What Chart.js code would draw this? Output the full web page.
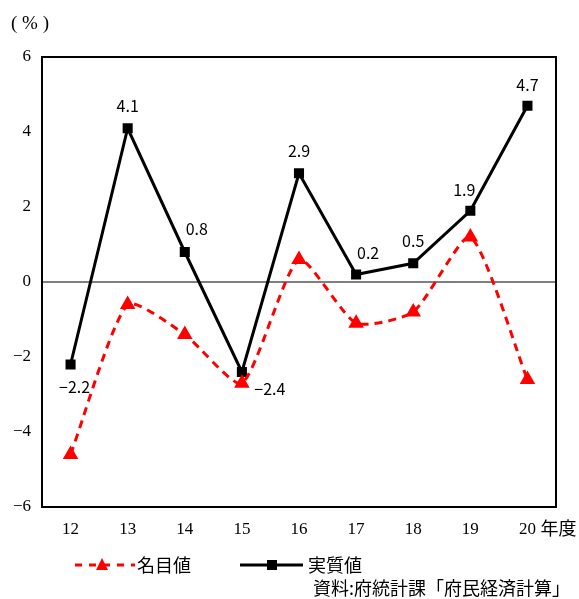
<!DOCTYPE html>
<html>
<head>
<meta charset="utf-8">
<script src="https://cdn.jsdelivr.net/npm/chart.js@4"></script>
<style>
  body{margin:0;background:#fff;}
  #wrap{position:relative;width:579px;height:599px;}
</style>
</head>
<body>
<div id="wrap"><canvas id="c" width="579" height="599"></canvas></div>
<script>
const years=["12","13","14","15","16","17","18","19","20"];
const nominal=[-4.6,-0.6,-1.4,-2.7,0.6,-1.1,-0.8,1.2,-2.6];
const real=[-2.2,4.1,0.8,-2.4,2.9,0.2,0.5,1.9,4.7];
const yTicks=[-6,-4,-2,0,2,4,6];
// label placement for real values: [dx,dy]
const labelPos=[[4,22],[0,-22],[12,-23],[28,17],[0,-22],[12,-22],[0,-22],[-6,-21],[0,-21]];

const serif='"Liberation Serif","DejaVu Serif",serif';
const sans='"Noto Sans CJK JP","Noto Sans",sans-serif';

const extras={
  id:"extras",
  beforeDatasetsDraw(chart){
    const {ctx,chartArea:a,scales:{y}}=chart;
    ctx.save();
    ctx.strokeStyle="#000";
    ctx.lineWidth=1;
    const z=y.getPixelForValue(0);
    ctx.beginPath();ctx.moveTo(a.left,z);ctx.lineTo(a.right,z);ctx.stroke();
    ctx.restore();
  },
  afterDraw(chart){
    const {ctx,chartArea:a,scales:{x}}=chart;
    ctx.save();
    ctx.strokeStyle="#000";
    ctx.lineWidth=2;
    ctx.strokeRect(a.left,a.top,a.right-a.left,a.bottom-a.top);
    // value labels
    const meta=chart.getDatasetMeta(1);
    ctx.fillStyle="#000";
    ctx.font="16px "+sans;
    ctx.textAlign="center";ctx.textBaseline="middle";
    meta.data.forEach((p,i)=>{
      const v=real[i];
      const t=(v<0?"\u2212":"")+Math.abs(v).toFixed(1);
      ctx.fillText(t,p.x+labelPos[i][0],p.y+labelPos[i][1]);
    });
    // unit, 年度
    ctx.font="19px "+serif;
    ctx.textAlign="left";
    ctx.fillText("( % )",11,24);
    const lx=x.getPixelForValue(8);
    ctx.font="18px "+sans;
    ctx.fillText("年度",lx+13,528);
    // legend
    ctx.lineWidth=3;
    ctx.strokeStyle="#f00";
    ctx.setLineDash([7,7]);
    ctx.beginPath();ctx.moveTo(75,565);ctx.lineTo(135,565);ctx.stroke();
    ctx.setLineDash([]);
    ctx.fillStyle="#f00";
    ctx.beginPath();ctx.moveTo(102,558);ctx.lineTo(108,570);ctx.lineTo(96,570);ctx.closePath();ctx.fill();
    ctx.strokeStyle="#000";
    ctx.beginPath();ctx.moveTo(240,565);ctx.lineTo(303,565);ctx.stroke();
    ctx.fillStyle="#000";
    ctx.fillRect(267,560,10,10);
    ctx.font="18px "+sans;
    ctx.fillText("名目値",137,565);
    ctx.fillText("実質値",308,565);
    ctx.textAlign="right";
    ctx.fillText("資料:府統計課「府民経済計算」",570,588);
    ctx.restore();
  }
};

new Chart(document.getElementById("c"),{
  type:"line",
  data:{
    labels:years,
    datasets:[
      {label:"名目値",data:nominal,borderColor:"#f00",backgroundColor:"#f00",borderWidth:3,
       borderDash:[8,6],tension:0.2,pointStyle:"triangle",pointRadius:6,pointHoverRadius:6},
      {label:"実質値",data:real,borderColor:"#000",backgroundColor:"#000",borderWidth:3,
       tension:0,pointStyle:"rect",pointRadius:5,pointHoverRadius:5}
    ]
  },
  options:{
    responsive:false,animation:false,
    layout:{padding:{top:57,right:23,bottom:62,left:0}},
    plugins:{legend:{display:false},tooltip:{enabled:false}},
    scales:{
      x:{offset:true,grid:{display:false,drawTicks:false},border:{display:false},
         ticks:{color:"#000",font:{family:serif,size:17},padding:12,maxRotation:0},
         afterFit(s){s.height=30;}},
      y:{min:-6,max:6,grid:{display:false,drawTicks:false},border:{display:false},
         afterBuildTicks(s){s.ticks=yTicks.map(v=>({value:v}));},
         ticks:{color:"#000",font:{family:serif,size:17},padding:11,
           callback:v=>v<0?"\u2212"+Math.abs(v):String(v)},
         afterFit(s){s.width=42;}}
    }
  },
  plugins:[extras]
});
</script>
</body>
</html>
